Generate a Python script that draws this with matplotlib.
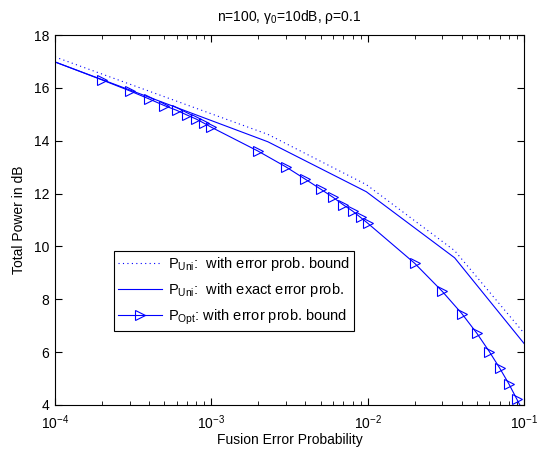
import numpy as np
import matplotlib
matplotlib.use("Agg")
import matplotlib.pyplot as plt

plt.rcParams['font.family'] = ['Liberation Sans', 'DejaVu Sans']
plt.rcParams['mathtext.fontset'] = 'custom'
plt.rcParams['mathtext.rm'] = 'Liberation Sans'
plt.rcParams['mathtext.it'] = 'Liberation Sans:italic'
plt.rcParams['mathtext.default'] = 'regular'

# Uniform power allocation (few evaluation points)
pe_uni = [1e-4, 2.3e-3, 9.8e-3, 3.6e-2, 1e-1]
p_uni_bound = [17.17, 14.24, 12.34, 9.84, 6.72]
p_uni_exact = [16.98, 13.96, 12.07, 9.57, 6.33]

# Optimal power allocation
pe_opt = [1e-4, 2e-4, 3e-4, 4e-4, 5e-4, 6e-4, 7e-4, 8e-4, 9e-4, 1e-3,
          2e-3, 3e-3, 4e-3, 5e-3, 6e-3, 7e-3, 8e-3, 9e-3, 1e-2,
          2e-2, 3e-2, 4e-2, 5e-2, 6e-2, 7e-2, 8e-2, 9e-2, 1e-1]
p_opt = [16.98, 16.30, 15.89, 15.58, 15.33, 15.15, 14.97, 14.82, 14.66, 14.51,
         13.60, 13.01, 12.54, 12.17, 11.86, 11.57, 11.34, 11.10, 10.88,
         9.36, 8.30, 7.46, 6.71, 6.02, 5.39, 4.80, 4.22, 3.70]

fig = plt.figure(figsize=(5.48, 4.54), dpi=100)
ax = fig.add_axes([55/548, 49/454, 469/548, 370/454])

ax.plot(pe_uni, p_uni_bound, color='blue', lw=0.8, linestyle=(0, (1, 3)),
        label=r'$\mathrm{P_{Uni}}$:  with error prob. bound')
ax.plot(pe_uni, p_uni_exact, color='blue', lw=0.8,
        label=r'$\mathrm{P_{Uni}}$:  with exact error prob.')
ax.plot(pe_opt, p_opt, color='blue', lw=0.8, marker='>', markersize=7,
        markerfacecolor='none', markeredgewidth=0.8, markevery=slice(1, None),
        label=r'$\mathrm{P_{Opt}}$: with error prob. bound')

ax.set_xscale('log')
ax.set_xlim(1e-4, 1e-1)
ax.set_ylim(4, 18)
ax.set_yticks(np.arange(4, 19, 2))
ax.tick_params(which='both', direction='in', top=True, right=True, labelsize=10)
ax.tick_params(which='major', length=5)
ax.tick_params(which='minor', length=3)
ax.tick_params(axis='x', pad=6)
ax.tick_params(axis='y', pad=4)

ax.set_xlabel('Fusion Error Probability', fontsize=10, labelpad=1)
ax.set_ylabel('Total Power in dB', fontsize=10, labelpad=6)
ax.set_title(r'n=100, $\mathrm{γ_0}$=10dB, ρ=0.1', fontsize=10, pad=10)

leg = ax.legend(loc='upper left', bbox_to_anchor=(59/469, 154/370), fontsize=10.5,
                fancybox=False, edgecolor='black', framealpha=1,
                handlelength=3.0, handletextpad=0.4, labelspacing=0.55,
                borderpad=0.3, borderaxespad=0)
leg.get_frame().set_linewidth(0.8)

fig.savefig('out.png', dpi=100)
